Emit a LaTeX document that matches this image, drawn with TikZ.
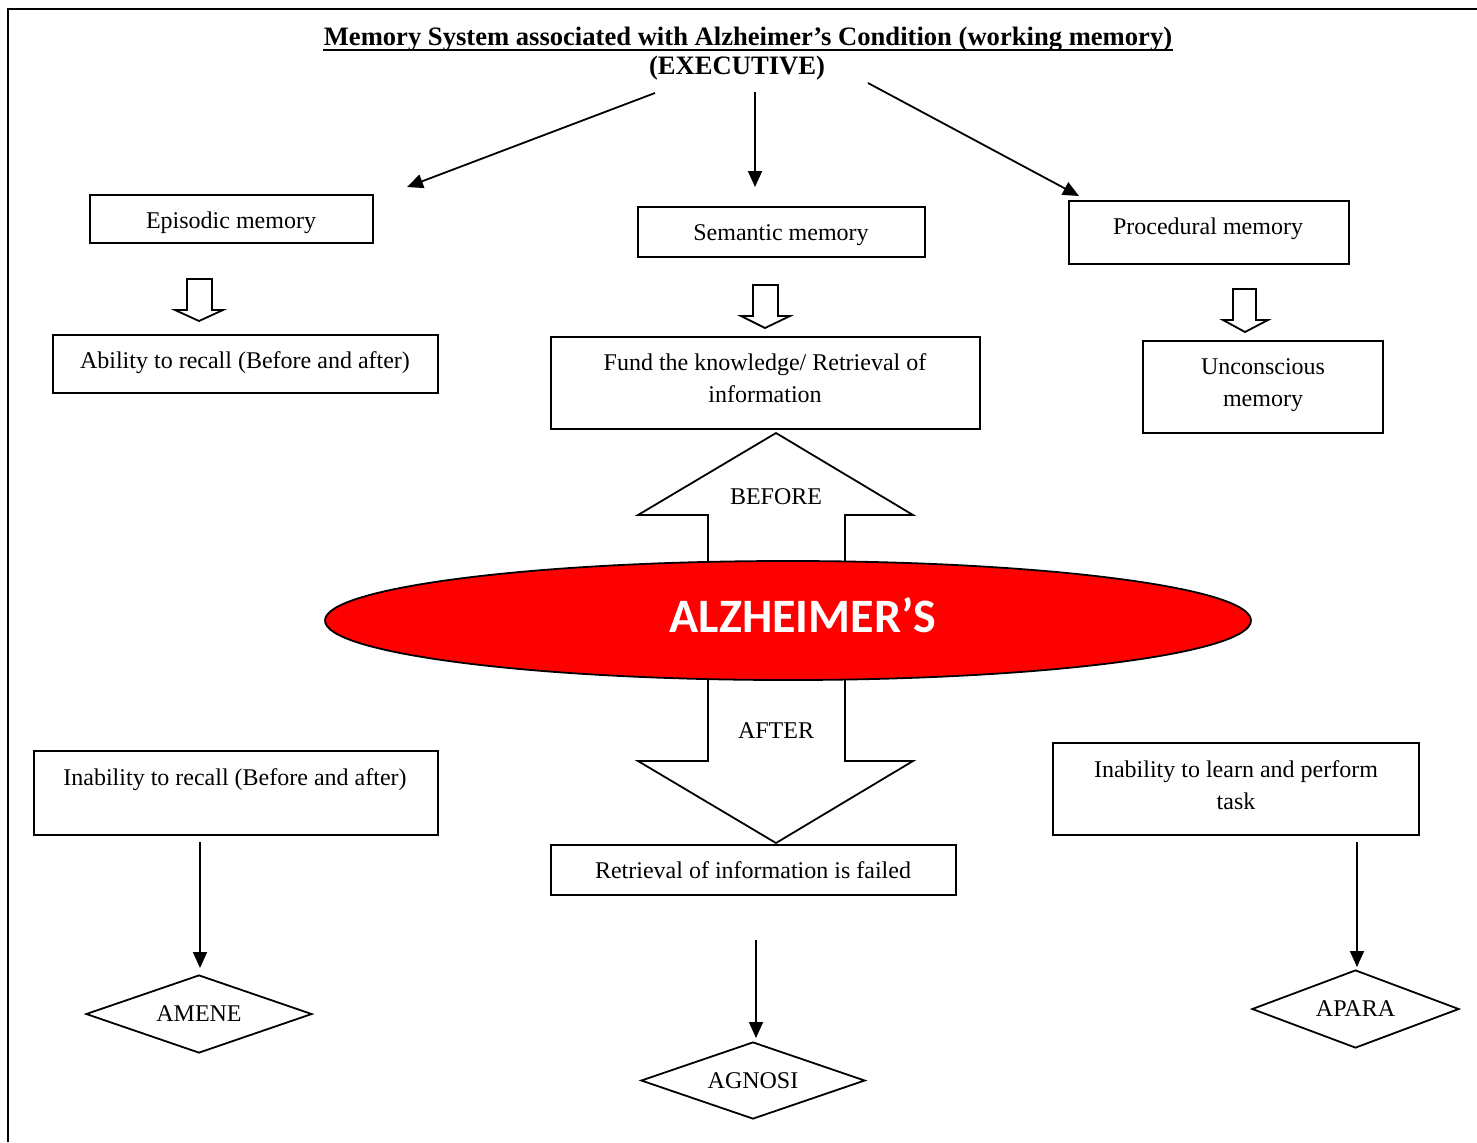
\documentclass[tikz,border=0pt]{standalone}
\usepackage{fontspec}
\setmainfont{Liberation Serif}
\newfontfamily\alzfont{Carlito}
\usetikzlibrary{shapes.geometric,arrows.meta,calc}
\begin{document}
\begin{tikzpicture}[x=0.5pt,y=-0.5pt, line width=0.9pt,
  box/.style={draw, rectangle, inner sep=0pt},
  txt/.style={inner sep=0pt, align=center, font=\fontsize{12}{16}\selectfont},
  dia/.style={draw, diamond, shape aspect=2.9, inner sep=0pt, font=\fontsize{12}{14}\selectfont},
  arr/.style={-{Triangle[length=8pt,width=7pt]}},
  hollow/.style={draw, fill=white, line join=miter}]
\useasboundingbox (0,0) rectangle (1477,1142);
\draw (8,1142) -- (8,9) -- (1477,9);

% title
\node[inner sep=0pt, anchor=base, font=\fontsize{13.3}{15}\selectfont\bfseries] (title) at (748,45)
  {Memory System associated with Alzheimer’s Condition (working memory)};
\draw[line width=1.1pt] ($(title.base west)+(0,5)$) -- ($(title.base east)+(0,5)$);
\node[inner sep=0pt, anchor=base, font=\fontsize{13.3}{15}\selectfont\bfseries] (exec) at (737,74) {(EXECUTIVE)};

% executive arrows
\coordinate (e1s) at (655,93); \coordinate (e1e) at (407,187);
\coordinate (e2s) at (755,92); \coordinate (e2e) at (755,187);
\coordinate (e3s) at (868,83); \coordinate (e3e) at (1079,196);
\draw[arr] (e1s) -- (e1e);
\draw[arr] (e2s) -- (e2e);
\draw[arr] (e3s) -- (e3e);

% top boxes
\node[box, minimum width=141.5pt, minimum height=24pt] (epi) at (231.5,219) {};
\node[txt] (epiT) at (231,223) {Episodic memory};
\node[box, minimum width=143.5pt, minimum height=25pt] (sem) at (781.5,232) {};
\node[txt] (semT) at (781,235) {Semantic memory};
\node[box, minimum width=140pt, minimum height=31.5pt] (pro) at (1209,232.5) {};
\node[txt] (proT) at (1208,229) {Procedural memory};

% small hollow arrows
\draw[hollow] (187,279) -- (212,279) -- (212,310) -- (223,310) -- (199,321) -- (175,310) -- (187,310) -- cycle;
\draw[hollow] (753,285) -- (778,285) -- (778,316) -- (790,316) -- (765,328) -- (741,316) -- (753,316) -- cycle;
\draw[hollow] (1233,289) -- (1256,289) -- (1256,320) -- (1268,320) -- (1245,332) -- (1223,320) -- (1233,320) -- cycle;

% second row boxes
\node[box, minimum width=192.5pt, minimum height=29pt] (abi) at (245.5,364) {};
\node[txt] (abiT) at (245,363) {Ability to recall (Before and after)};
\node[box, minimum width=214.5pt, minimum height=46pt] (fund) at (765.5,383) {};
\node[txt] (fundT) at (765,378) {Fund the knowledge/ Retrieval of\\information};
\node[box, minimum width=120pt, minimum height=46pt] (unc) at (1263,387) {};
\node[txt] (uncT) at (1263,385) {Unconscious\\memory};

% big arrows
\draw[hollow] (776,433) -- (913,515) -- (845,515) -- (845,600) -- (708,600) -- (708,515) -- (638,515) -- cycle;
\node[txt] (before) at (776,497) {BEFORE};
\draw[hollow] (708,640) -- (708,761) -- (638,761) -- (776,843) -- (913,761) -- (845,761) -- (845,640) -- cycle;
\node[txt] (after) at (776,731) {AFTER};

% ellipse
\node[draw, ellipse, fill=red, inner sep=0pt, minimum width=463pt, minimum height=59.5pt] (alz) at (788,620.5) {};
\node[inner sep=0pt, text=white, font=\alzfont\fontsize{24}{28}\selectfont\bfseries] (alzT) at (803,615) {ALZHEIMER’S};

% lower boxes
\node[box, minimum width=202pt, minimum height=42pt] (inr) at (236,793) {};
\node[txt] (inrT) at (235,780) {Inability to recall (Before and after)};
\node[box, minimum width=202.5pt, minimum height=25pt] (ret) at (753.5,870) {};
\node[txt] (retT) at (753,870) {Retrieval of information is failed};
\node[box, minimum width=183pt, minimum height=46pt] (inl) at (1236,789) {};
\node[txt] (inlT) at (1236,785) {Inability to learn and perform\\task};

% diamonds
\node[dia, minimum width=113pt, minimum height=39pt] (amene) at (199,1014) {AMENE};
\node[dia, minimum width=112pt, minimum height=38.5pt] (agnosi) at (753,1080.5) {AGNOSI};
\node[dia, minimum width=103.5pt, minimum height=39pt] (apara) at (1355.5,1009) {APARA};

% lower arrows
\coordinate (l1s) at (200,842); \coordinate (l1e) at (200,968);
\coordinate (l2s) at (756,940); \coordinate (l2e) at (756,1038);
\coordinate (l3s) at (1357,842); \coordinate (l3e) at (1357,967);
\draw[arr] (l1s) -- (l1e);
\draw[arr] (l2s) -- (l2e);
\draw[arr] (l3s) -- (l3e);
\end{tikzpicture}
\end{document}
